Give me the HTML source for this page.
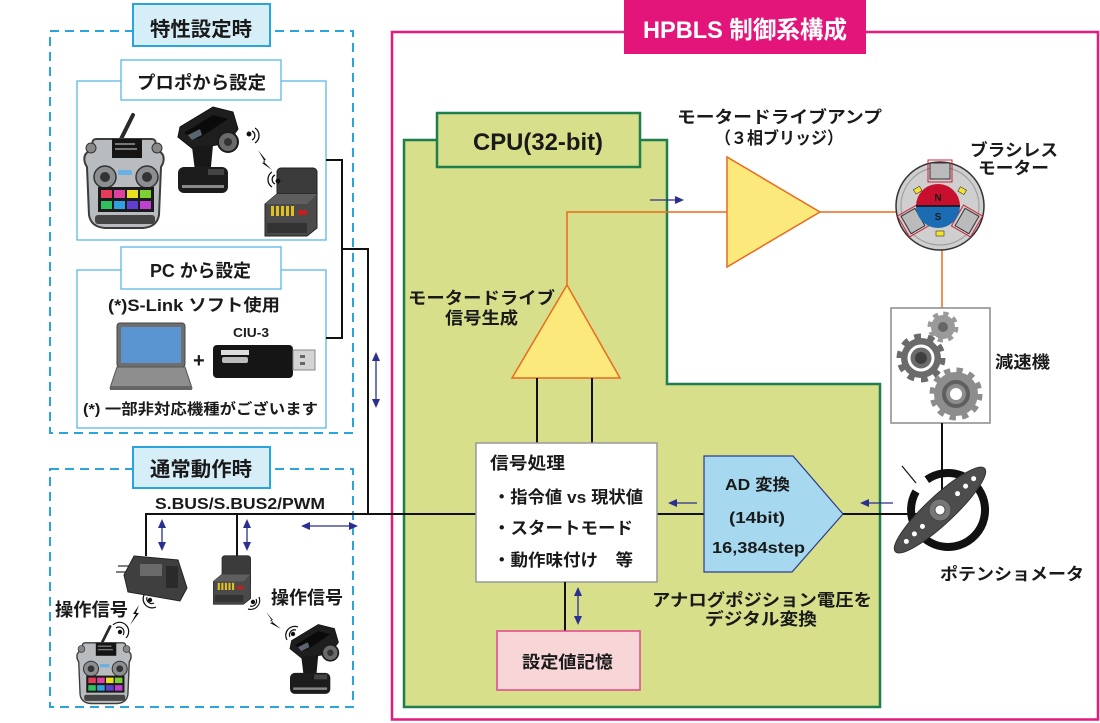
<!DOCTYPE html>
<html><head><meta charset="utf-8"><style>
html,body{margin:0;padding:0;background:#fff;}
svg{display:block;}
text{font-family:"Liberation Sans","Noto Sans CJK JP",sans-serif;font-weight:700;fill:#1a1a1a;}
</style></head><body>
<svg width="1100" height="723" viewBox="0 0 1100 723" xmlns="http://www.w3.org/2000/svg">
<defs>
<symbol id="tx" viewBox="0 0 82 113" overflow="visible">
  <line x1="50" y1="0" x2="37" y2="26" stroke="#2a2a2a" stroke-width="4" stroke-linecap="round"/>
  <path d="M10,30 Q8,24 14,24 L68,24 Q74,24 72,30 L80,40 Q82,46 78,52 L76,100 Q74,112 60,113 L22,113 Q8,112 6,100 L4,52 Q0,46 2,40 Z" fill="#b9bcbf" stroke="#3c3c3c" stroke-width="2"/>
  <circle cx="8" cy="33" r="5" fill="#888" stroke="#333"/>
  <circle cx="74" cy="33" r="5" fill="#888" stroke="#333"/>
  <rect x="29" y="24" width="30" height="19" fill="#151515"/>
  <rect x="32" y="28" width="20" height="2" fill="#777"/>
  <rect x="32" y="33" width="22" height="2" fill="#777"/>
  <circle cx="22" cy="62" r="11" fill="#8c8f92" stroke="#333" stroke-width="1.5"/>
  <circle cx="22" cy="62" r="5" fill="#333"/>
  <circle cx="64" cy="62" r="11" fill="#8c8f92" stroke="#333" stroke-width="1.5"/>
  <circle cx="64" cy="62" r="5" fill="#333"/>
  <rect x="35" y="55" width="14" height="5" fill="#6ab0e0"/>
  <rect x="15" y="72" width="56" height="25" fill="#1b1b1b"/>
  <rect x="18" y="75" width="11" height="8" fill="#e53a5a"/>
  <rect x="31" y="75" width="11" height="8" fill="#e040a0"/>
  <rect x="44" y="75" width="11" height="8" fill="#e8e020"/>
  <rect x="57" y="75" width="11" height="8" fill="#7cd030"/>
  <rect x="18" y="86" width="11" height="8" fill="#30c060"/>
  <rect x="31" y="86" width="11" height="8" fill="#30a0e0"/>
  <rect x="44" y="86" width="11" height="8" fill="#6040d0"/>
  <rect x="57" y="86" width="11" height="8" fill="#c040d0"/>
  <rect x="12" y="100" width="60" height="9" rx="3" fill="#444"/>
</symbol>
<symbol id="pistol" viewBox="0 0 62 88" overflow="visible">
  <polygon points="0,30 2,20 35,0 55,5 60,22 50,36 15,42" fill="#1e1e1e" stroke="#111"/>
  <polygon points="6,26 35,8 50,12 20,32" fill="#0a0a0a"/>
  <polygon points="10,28 22,22 24,28 14,33" fill="#5a6570"/>
  <circle cx="50" cy="35" r="10" fill="#6a6a6a" stroke="#1a1a1a" stroke-width="2"/>
  <circle cx="50" cy="35" r="4" fill="#333"/>
  <polygon points="14,40 35,38 32,70 18,72" fill="#181818"/>
  <rect x="0" y="60" width="50" height="26" rx="6" fill="#1c1c1c"/>
  <rect x="4" y="78" width="42" height="3" fill="#888"/>
  <rect x="30" y="62" width="16" height="6" fill="#444"/>
</symbol>
<symbol id="rxbox" viewBox="0 0 56 68" overflow="visible">
  <rect x="14" y="0" width="40" height="42" rx="4" fill="#3b3b3b" stroke="#222"/>
  <polygon points="2,36 14,26 54,26 54,60 44,68 2,68" fill="#4a4a4a" stroke="#222"/>
  <polygon points="2,36 14,26 54,26 44,36" fill="#5e5e5e"/>
  <rect x="8" y="38" width="3" height="10" fill="#e0c020"/>
  <rect x="13" y="38" width="3" height="10" fill="#e0c020"/>
  <rect x="18" y="38" width="3" height="10" fill="#e0c020"/>
  <rect x="23" y="38" width="3" height="10" fill="#e0c020"/>
  <rect x="28" y="38" width="3" height="10" fill="#e0c020"/>
  <rect x="35" y="42" width="9" height="5" fill="#c02020"/>
  <rect x="4" y="55" width="40" height="10" fill="#333"/>
</symbol>
</defs>

<!-- ========== LEFT: 特性設定時 ========== -->
<rect x="50" y="31" width="303" height="402" fill="none" stroke="#2aa4dd" stroke-width="2" stroke-dasharray="9 6"/>
<rect x="133" y="4" width="137" height="42" fill="#d6eef8" stroke="#2aa4dd" stroke-width="2"/>
<text x="150" y="36" font-size="20" textLength="102" lengthAdjust="spacingAndGlyphs">特性設定時</text>

<rect x="77" y="81" width="249" height="159" fill="#fff" stroke="#5bb8e6" stroke-width="1.3"/>
<rect x="121" y="60" width="160" height="40" fill="#fff" stroke="#5bb8e6" stroke-width="1.3"/>
<text x="137" y="89" font-size="18" textLength="129" lengthAdjust="spacingAndGlyphs">プロポから設定</text>

<use href="#tx" x="83" y="115" width="82" height="113"/>
<use href="#pistol" x="178" y="107" width="62" height="88"/>
<use href="#rxbox" x="263" y="168" width="56" height="68"/>
<!-- wireless -->
<g fill="none" stroke="#111" stroke-width="1.3">
  <circle cx="249" cy="134" r="1.8" fill="#111"/>
  <path d="M252,131 A5,5 0 0 1 252,140"/><path d="M255,128 A9,9 0 0 1 255,143"/>
  <circle cx="278" cy="181" r="1.8" fill="#111"/>
  <path d="M275,184 A5,5 0 0 1 275,175"/><path d="M272,187 A9,9 0 0 1 272,172"/>
</g>
<polygon points="258,150 266,160 263,161 272,170 262,163 265,162" fill="#111"/>

<rect x="77" y="270" width="249" height="158" fill="#fff" stroke="#5bb8e6" stroke-width="1.3"/>
<rect x="121" y="247" width="160" height="42" fill="#fff" stroke="#5bb8e6" stroke-width="1.3"/>
<text x="150" y="277" font-size="18" textLength="101" lengthAdjust="spacingAndGlyphs">PC から設定</text>
<text x="108" y="311" font-size="17" textLength="172" lengthAdjust="spacingAndGlyphs">(*)S-Link ソフト使用</text>
<text x="233" y="337" font-size="13" textLength="36" lengthAdjust="spacingAndGlyphs">CIU-3</text>
<!-- laptop -->
<rect x="117" y="323" width="68" height="44" rx="3" fill="#6e6e6e" stroke="#444"/>
<rect x="121" y="327" width="60" height="36" fill="#5a95d2"/>
<polygon points="117,367 185,367 192,388 110,388" fill="#8e8e8e" stroke="#555"/>
<rect x="110" y="386" width="82" height="4" fill="#666"/>
<text x="193" y="367" font-size="20">+</text>
<!-- CIU-3 -->
<rect x="213" y="345" width="80" height="33" rx="4" fill="#151515"/>
<rect x="221" y="350" width="28" height="5" fill="#ddd"/>
<rect x="222" y="357" width="26" height="6" rx="2" fill="#bbb"/>
<rect x="293" y="350" width="22" height="20" fill="#d4d4d4" stroke="#888"/>
<rect x="300" y="355" width="5" height="3" fill="#666"/>
<rect x="300" y="362" width="5" height="3" fill="#666"/>
<text x="83" y="414" font-size="15" textLength="235" lengthAdjust="spacingAndGlyphs">(*) 一部非対応機種がございます</text>

<!-- connectors left -->
<polyline points="326,160 342,160 342,338 326,338" fill="none" stroke="#111" stroke-width="2"/>
<polyline points="342,249 368,249 368,514" fill="none" stroke="#111" stroke-width="2"/>

<!-- ========== LEFT: 通常動作時 ========== -->
<rect x="50" y="469" width="303" height="238" fill="none" stroke="#2aa4dd" stroke-width="2" stroke-dasharray="9 6"/>
<rect x="133" y="447" width="137" height="41" fill="#d6eef8" stroke="#2aa4dd" stroke-width="2"/>
<text x="150" y="476" font-size="20" textLength="102" lengthAdjust="spacingAndGlyphs">通常動作時</text>
<text x="155" y="509" font-size="16" textLength="170" lengthAdjust="spacingAndGlyphs">S.BUS/S.BUS2/PWM</text>

<!-- ========== HPBLS frame ========== -->
<rect x="392" y="32" width="706" height="687.5" fill="none" stroke="#e6197e" stroke-width="2.5"/>
<rect x="624" y="0" width="242" height="54" fill="#e4157a"/>
<text x="643" y="38" font-size="24" textLength="204" lengthAdjust="spacingAndGlyphs" style="fill:#fff">HPBLS 制御系構成</text>

<!-- CPU -->
<path d="M404,140 H667 V384 H880 V707 H404 Z" fill="#d7df8b" stroke="#1f7f4c" stroke-width="2.5"/>
<rect x="437" y="113" width="203" height="54" fill="#d7df8b" stroke="#1f7f4c" stroke-width="2.5"/>
<text x="473" y="150" font-size="24" textLength="130" lengthAdjust="spacingAndGlyphs">CPU(32-bit)</text>

<!-- bus line -->
<line x1="146" y1="514" x2="918" y2="514" stroke="#111" stroke-width="2"/>
<line x1="146" y1="513" x2="146" y2="556" stroke="#111" stroke-width="2"/>
<line x1="237" y1="513" x2="237" y2="558" stroke="#111" stroke-width="2"/>

<!-- bottom-left devices -->
<line x1="118" y1="566" x2="138" y2="566" stroke="#333" stroke-width="1.2"/>
<line x1="116" y1="572" x2="136" y2="572" stroke="#333" stroke-width="1.2"/>
<polygon points="134,556 178,560 187,588 180,601 128,592 124,575" fill="#3f3f3f" stroke="#222"/>
<rect x="140" y="564" width="22" height="12" fill="#6a6a6a"/>
<rect x="166" y="566" width="12" height="22" fill="#2a2a2a"/>
<use href="#rxbox" x="212" y="552" width="40" height="56"/>
<use href="#tx" x="76" y="625" width="56" height="80"/>
<use href="#pistol" x="290" y="624" width="50" height="72"/>
<g fill="none" stroke="#111" stroke-width="1.2">
  <circle cx="150" cy="600" r="1.6" fill="#111"/>
  <path d="M147,597 A5,5 0 0 0 154,603"/><path d="M144,595 A9,9 0 0 0 156,607"/>
  <circle cx="120" cy="632" r="1.6" fill="#111"/>
  <path d="M123,635 A5,5 0 0 0 116,628"/><path d="M126,638 A9,9 0 0 0 113,625"/>
  <circle cx="253" cy="602" r="1.6" fill="#111"/>
  <path d="M256,599 A5,5 0 0 1 250,606"/><path d="M259,597 A9,9 0 0 1 248,609"/>
  <circle cx="293" cy="634" r="1.6" fill="#111"/>
  <path d="M290,637 A5,5 0 0 1 296,630"/><path d="M287,640 A9,9 0 0 1 298,627"/>
</g>
<polygon points="139,605 133,614 136,614 130,625 139,613 136,613" fill="#111"/>
<polygon points="266,612 273,620 270,620 281,629 270,623 273,622" fill="#111"/>
<text x="55" y="616" font-size="18" textLength="73" lengthAdjust="spacingAndGlyphs">操作信号</text>
<text x="271" y="604" font-size="18" textLength="72" lengthAdjust="spacingAndGlyphs">操作信号</text>

<!-- navy arrows -->
<g stroke="#2b2f8f" stroke-width="1.3" fill="#2b2f8f">
  <line x1="376" y1="358" x2="376" y2="402"/>
  <polygon points="376,352 372,361 380,361" stroke="none"/>
  <polygon points="376,408 372,399 380,399" stroke="none"/>
  <line x1="162" y1="525" x2="162" y2="545"/>
  <polygon points="162,519 158,528 166,528" stroke="none"/>
  <polygon points="162,551 158,542 166,542" stroke="none"/>
  <line x1="247" y1="525" x2="247" y2="545"/>
  <polygon points="247,519 243,528 251,528" stroke="none"/>
  <polygon points="247,551 243,542 251,542" stroke="none"/>
  <line x1="307" y1="526" x2="352" y2="526"/>
  <polygon points="301,526 310,522 310,530" stroke="none"/>
  <polygon points="358,526 349,522 349,530" stroke="none"/>
  <line x1="578" y1="593" x2="578" y2="619"/>
  <polygon points="578,587 574,596 582,596" stroke="none"/>
  <polygon points="578,625 574,616 582,616" stroke="none"/>
  <line x1="650" y1="200" x2="677" y2="200"/>
  <polygon points="684,200 675,196 675,204" stroke="none"/>
  <line x1="697" y1="503" x2="675" y2="503"/>
  <polygon points="668,503 677,499 677,507" stroke="none"/>
  <line x1="893" y1="503" x2="867" y2="503"/>
  <polygon points="860,503 869,499 869,507" stroke="none"/>
</g>

<!-- orange lines -->
<polyline points="567,285 567,212 727,212" fill="none" stroke="#ea6a1e" stroke-width="1.5"/>
<line x1="820" y1="212" x2="896" y2="212" stroke="#ea6a1e" stroke-width="1.5"/>
<line x1="942" y1="250" x2="942" y2="308" stroke="#ea6a1e" stroke-width="1.5"/>

<!-- amp -->
<polygon points="727,157 727,267 820,212" fill="#fce97b" stroke="#ea6a1e" stroke-width="1.5"/>
<text x="677" y="123" font-size="17" textLength="205" lengthAdjust="spacingAndGlyphs">モータードライブアンプ</text>
<text x="715" y="144" font-size="17" textLength="128" lengthAdjust="spacingAndGlyphs">（３相ブリッジ）</text>

<!-- signal gen triangle -->
<polygon points="567,285 620,378 512,378" fill="#fce97b" stroke="#ea6a1e" stroke-width="1.5"/>
<text x="408" y="304" font-size="17" textLength="147" lengthAdjust="spacingAndGlyphs">モータードライブ</text>
<text x="445" y="324" font-size="17" textLength="73" lengthAdjust="spacingAndGlyphs">信号生成</text>
<line x1="537" y1="378" x2="537" y2="443" stroke="#111" stroke-width="2"/>
<line x1="592" y1="378" x2="592" y2="443" stroke="#111" stroke-width="2"/>

<!-- signal processing -->
<rect x="476" y="443" width="181" height="139" fill="#fff" stroke="#999" stroke-width="1.5"/>
<text x="490" y="469" font-size="17" textLength="75" lengthAdjust="spacingAndGlyphs">信号処理</text>
<text x="493" y="503" font-size="17" textLength="150" lengthAdjust="spacingAndGlyphs">・指令値 vs 現状値</text>
<text x="493" y="534" font-size="17" textLength="140" lengthAdjust="spacingAndGlyphs">・スタートモード</text>
<text x="493" y="566" font-size="17" textLength="140" lengthAdjust="spacingAndGlyphs">・動作味付け　等</text>

<!-- memory -->
<line x1="565" y1="582" x2="565" y2="631" stroke="#111" stroke-width="2"/>
<rect x="497" y="631" width="143" height="59" fill="#f8d5d7" stroke="#e2468a" stroke-width="1.5"/>
<text x="522" y="668" font-size="17" textLength="91" lengthAdjust="spacingAndGlyphs">設定値記憶</text>

<!-- AD -->
<polygon points="704,456 793,456 843,514 792,572 704,572" fill="#a6d9f0" stroke="#2c3a8c" stroke-width="1.2"/>
<text x="725" y="490" font-size="16" textLength="65" lengthAdjust="spacingAndGlyphs">AD 変換</text>
<text x="729" y="523" font-size="16" textLength="56" lengthAdjust="spacingAndGlyphs">(14bit)</text>
<text x="712" y="553" font-size="16" textLength="93" lengthAdjust="spacingAndGlyphs">16,384step</text>
<text x="652" y="606" font-size="17" textLength="220" lengthAdjust="spacingAndGlyphs">アナログポジション電圧を</text>
<text x="705" y="625" font-size="17" textLength="112" lengthAdjust="spacingAndGlyphs">デジタル変換</text>

<!-- motor -->
<circle cx="940" cy="206" r="44" fill="#cfcfcf" stroke="#333" stroke-width="1.5"/>
<circle cx="940" cy="206" r="39" fill="none" stroke="#999" stroke-width="1"/>
<g stroke="#d0203a" stroke-width="1" fill="none">
  <rect x="930" y="163" width="20" height="16" fill="#bbb" stroke="#333"/>
  <path d="M928,160 H952 V182 H928 Z"/>
  <g transform="rotate(60 913 221)"><rect x="903" y="213" width="20" height="16" fill="#bbb" stroke="#333"/><path d="M901,210 H925 V232 H901 Z"/></g>
  <g transform="rotate(-60 967 221)"><rect x="957" y="213" width="20" height="16" fill="#bbb" stroke="#333"/><path d="M955,210 H979 V232 H955 Z"/></g>
</g>
<path d="M916,206 A22,22 0 0 1 960,206 Z" fill="#c8102e"/>
<path d="M916,206 A22,22 0 0 0 960,206 Z" fill="#1b6cb3"/>
<line x1="916" y1="206" x2="960" y2="206" stroke="#111" stroke-width="1.5"/>
<text x="938" y="201" font-size="10" text-anchor="middle">N</text>
<text x="938" y="220" font-size="10" text-anchor="middle">S</text>
<rect x="914" y="188" width="7" height="5" fill="#f3e32a" stroke="#333" stroke-width="0.6" transform="rotate(-30 917 190)"/>
<rect x="959" y="188" width="7" height="5" fill="#f3e32a" stroke="#333" stroke-width="0.6" transform="rotate(30 962 190)"/>
<rect x="936" y="231" width="8" height="5" fill="#f3e32a" stroke="#333" stroke-width="0.6"/>
<text x="970" y="156" font-size="17" textLength="88" lengthAdjust="spacingAndGlyphs">ブラシレス</text>
<text x="978" y="174" font-size="17" textLength="71" lengthAdjust="spacingAndGlyphs">モーター</text>

<!-- gearbox -->
<rect x="891" y="308" width="99" height="115" fill="#fff" stroke="#8a8a8a" stroke-width="1.5"/>
<circle cx="943" cy="327" r="12" fill="#9a9a9a"/>
<circle cx="943" cy="327" r="13.5" fill="none" stroke="#9a9a9a" stroke-width="4" stroke-dasharray="5.3 5.3"/>
<circle cx="943" cy="327" r="5" fill="#666"/>
<circle cx="921" cy="358" r="20" fill="#6b6b6b"/>
<circle cx="921" cy="358" r="22" fill="none" stroke="#6b6b6b" stroke-width="5" stroke-dasharray="6.9 6.9"/>
<circle cx="921" cy="358" r="12" fill="none" stroke="#fff" stroke-width="3"/>
<circle cx="921" cy="358" r="6" fill="#3f3f3f"/>
<circle cx="956" cy="394" r="22" fill="#8d8d8d"/>
<circle cx="956" cy="394" r="24" fill="none" stroke="#8d8d8d" stroke-width="5" stroke-dasharray="6.3 6.3"/>
<circle cx="956" cy="394" r="12" fill="none" stroke="#5f5f5f" stroke-width="4"/>
<circle cx="956" cy="394" r="6" fill="#fff"/>
<text x="995" y="368" font-size="17" textLength="55" lengthAdjust="spacingAndGlyphs">減速機</text>

<!-- potentiometer -->
<line x1="942" y1="423" x2="942" y2="490" stroke="#111" stroke-width="2"/>
<path d="M926.8,479.7 A37,37 0 1 1 916,491.5" fill="none" stroke="#111" stroke-width="8"/>
<line x1="902" y1="466" x2="916" y2="483" stroke="#111" stroke-width="1.2"/>
<g transform="translate(940,510) rotate(-43)">
  <ellipse cx="0" cy="0" rx="61" ry="14" fill="#4d4d4d" stroke="#333"/>
  <circle cx="-24" cy="0" r="2.5" fill="#fff"/><circle cx="-35" cy="0" r="2.5" fill="#fff"/><circle cx="-46" cy="0" r="2.5" fill="#fff"/>
  <circle cx="24" cy="0" r="2.5" fill="#fff"/><circle cx="35" cy="0" r="2.5" fill="#fff"/><circle cx="46" cy="0" r="2.5" fill="#fff"/>
  <circle cx="0" cy="0" r="11" fill="#777" stroke="#444"/>
  <circle cx="0" cy="0" r="5" fill="#fff" stroke="#555"/>
</g>
<text x="940" y="580" font-size="17" textLength="144" lengthAdjust="spacingAndGlyphs">ポテンショメータ</text>
</svg>
</body></html>
